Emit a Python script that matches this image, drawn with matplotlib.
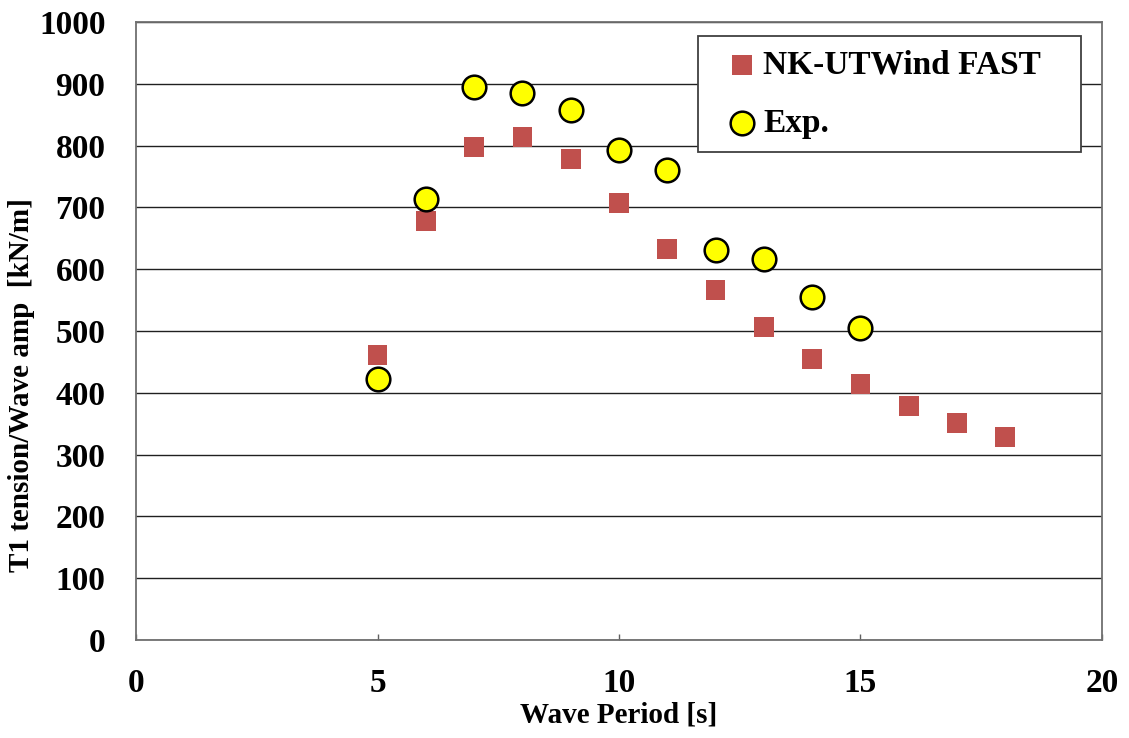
import matplotlib
matplotlib.use('Agg')
import matplotlib.pyplot as plt

# wave period [s] and T1 tension per wave amplitude [kN/m]
periods_sim = [5, 6, 7, 8, 9, 10, 11, 12, 13, 14, 15, 16, 17, 18]
tension_sim = [461, 678, 798, 814, 778, 707, 633, 566, 506, 455, 414, 379, 351, 328]

periods_exp = [5, 6, 7, 8, 9, 10, 11, 12, 13, 14, 15]
tension_exp = [422, 714, 895, 885, 858, 793, 760, 631, 616, 555, 505]

plt.rcParams['font.family'] = ['Liberation Serif', 'DejaVu Serif']
plt.rcParams['font.weight'] = 'bold'

fig = plt.figure(figsize=(11.29, 7.38), dpi=100)
ax = fig.add_axes([0.1205, 0.133, 0.8555, 0.837])

ax.scatter(periods_sim, tension_sim, marker='s', s=200, color='#c0504d',
           edgecolors='none', label='NK-UTWind FAST', zorder=3)
ax.scatter(periods_exp, tension_exp, marker='o', s=290, color='#ffff00',
           edgecolors='black', linewidths=1.8, label='Exp.', zorder=4)

ax.set_xlim(0, 20)
ax.set_ylim(0, 1000)
ax.set_xticks(range(0, 21, 5))
ax.set_yticks(range(0, 1001, 100))
ax.tick_params(axis='y', length=0, labelsize=24, pad=22)
ax.tick_params(axis='x', direction='in', length=4, width=1, color='#606060',
               labelsize=24, pad=20)
for lab in ax.get_xticklabels() + ax.get_yticklabels():
    lab.set_fontweight('bold')
ax.grid(axis='y', color='#202020', linewidth=1)
ax.set_axisbelow(True)
for sp in ax.spines.values():
    sp.set_color('#707070')
    sp.set_linewidth(1.3)

ax.set_xlabel('Wave Period [s]', fontsize=21, fontweight='bold', labelpad=2)
# y label placed by hand so it stays inside the figure
fig.text(22 / 1129, 1 - 385 / 738, 'T1 tension/Wave amp  [kN/m]', rotation=90,
         ha='center', va='center', fontsize=21, fontweight='bold')

leg = ax.legend(loc='upper left', bbox_to_anchor=(0.5818, 0.0, 0.3965, 0.977),
                mode='expand', fontsize=24, frameon=True, fancybox=False,
                handletextpad=-0.3, borderpad=0.4, labelspacing=0.82,
                borderaxespad=0, handlelength=1.85)
leg.get_frame().set_edgecolor('#404040')
leg.get_frame().set_linewidth(1.3)
leg.get_frame().set_alpha(1)
for t in leg.get_texts():
    t.set_fontweight('bold')

fig.savefig('out.png', dpi=100)
